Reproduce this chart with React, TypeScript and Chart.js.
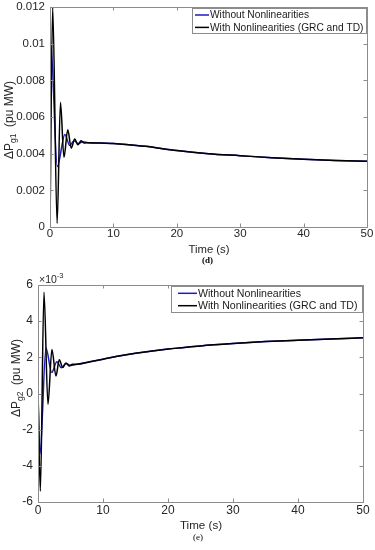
import React, { useEffect, useRef } from 'react';
import { Chart, registerables } from 'chart.js';

Chart.register(...registerables);

// ---------- data: panel (d) ΔPg1 ----------
const seriesNames = ['Without Nonlinearities', 'With Nonlinearities (GRC and TD)'];

const tD_without = [0, 0.12, 1.15, 2.35, 3.1, 3.8, 4.5, 5.2, 6, 8, 10, 12, 15, 20, 25, 30, 35, 40, 45, 50];
const pg1_without = [0, 0.0100, 0.0033, 0.00505, 0.00445, 0.0047, 0.00455, 0.00465, 0.0046, 0.00458, 0.00455, 0.0045, 0.0044, 0.00417, 0.0040, 0.00389, 0.00378, 0.0037, 0.00363, 0.00358];

const tD_with = [0, 0.42, 1.12, 1.65, 2.2, 2.8, 3.35, 3.9, 4.4, 4.9, 5.4, 6, 8, 10, 12, 15, 20, 25, 30, 35, 40, 45, 50];
const pg1_with = [0, 0.0120, 0.0002, 0.0068, 0.0038, 0.0053, 0.0043, 0.0048, 0.00448, 0.0047, 0.00458, 0.0046, 0.00458, 0.00455, 0.0045, 0.0044, 0.00417, 0.0040, 0.00389, 0.00378, 0.0037, 0.00363, 0.00358];

const yTicksD = [0, 0.002, 0.004, 0.006, 0.008, 0.01, 0.012];
const yLabelsD = ['0', '0.002', '0.004', '0.006', '0.008', '0.01', '0.012'];

// ---------- data: panel (e) ΔPg2 (×10^-3) ----------
const tE_without = [0, 0.3, 1.23, 2.1, 2.9, 3.6, 4.3, 5.0, 6, 8, 10, 12, 15, 20, 25, 30, 35, 40, 45, 50];
const pg2_without = [0, -3.36, 2.52, 1.16, 1.75, 1.42, 1.66, 1.55, 1.62, 1.76, 1.90, 2.04, 2.22, 2.46, 2.63, 2.76, 2.87, 2.95, 3.02, 3.08];

const tE_with = [0, 0.36, 0.92, 1.53, 2.14, 2.76, 3.27, 3.8, 4.3, 4.8, 5.3, 6, 8, 10, 12, 15, 20, 25, 30, 35, 40, 45, 50];
const pg2_with = [0, -5.4, 5.6, -0.6, 2.43, 0.97, 1.87, 1.44, 1.68, 1.52, 1.62, 1.62, 1.76, 1.90, 2.04, 2.22, 2.46, 2.63, 2.76, 2.87, 2.95, 3.02, 3.08];

const yTicksE = [-6, -4, -2, 0, 2, 4, 6];
const yLabelsE = ['-6', '-4', '-2', '0', '2', '4', '6'];

const xTicks = [0, 10, 20, 30, 40, 50];
const xLabels = ['0', '10', '20', '30', '40', '50'];

const BLUE = '#1c1cc4';
const BLACK = '#000000';
const FRAME = '#8c8c8c';
const TEXT = '#262626';
const SANS = '"Liberation Sans", Arial, sans-serif';

function pts(xs: number[], ys: number[]) {
  return xs.map((x, i) => ({ x, y: ys[i] }));
}

type PanelCfg = {
  height: number;
  padTop: number;
  padRight: number;
  yWidth: number;
  xHeight: number;
  yMin: number;
  yMax: number;
  yTicks: number[];
  yLabels: string[];
  tickFont: number;
  xTickPad: number;
  without: { x: number; y: number }[];
  withNL: { x: number; y: number }[];
  legend: { w: number; h: number; dy: number; rows: number[]; l0: number; l1: number; tx: number; font: number };
  yTitle: { x: number; y: number; sub: string };
  timeTitle: { x: number; y: number; size: number };
  tag: { text: string; x: number; y: number; bold: boolean };
  exponent?: { x: number; y: number };
};

function makePlugin(p: PanelCfg) {
  return {
    id: 'matlabFrame',
    afterDatasetsDraw(chart: any) {
      const { ctx, chartArea: a, scales } = chart;
      ctx.save();
      ctx.strokeStyle = FRAME;
      ctx.lineWidth = 1;
      ctx.strokeRect(Math.round(a.left) + 0.5, Math.round(a.top) + 0.5, Math.round(a.right - a.left), Math.round(a.bottom - a.top));
      const tl = 3.5;
      ctx.beginPath();
      scales.x.ticks.forEach((t: any) => {
        const px = Math.round(scales.x.getPixelForValue(t.value)) + 0.5;
        ctx.moveTo(px, a.bottom);
        ctx.lineTo(px, a.bottom - tl);
        ctx.moveTo(px, a.top);
        ctx.lineTo(px, a.top + tl);
      });
      scales.y.ticks.forEach((t: any) => {
        const py = Math.round(scales.y.getPixelForValue(t.value)) + 0.5;
        ctx.moveTo(a.left, py);
        ctx.lineTo(a.left + tl, py);
        ctx.moveTo(a.right, py);
        ctx.lineTo(a.right - tl, py);
      });
      ctx.stroke();
      ctx.restore();
    },
    afterDraw(chart: any) {
      const { ctx, chartArea: a } = chart;
      const L = p.legend;
      ctx.save();
      // legend
      const left = a.right - L.w;
      const top = a.top + L.dy;
      ctx.fillStyle = '#ffffff';
      ctx.fillRect(left, top, L.w, L.h);
      ctx.strokeStyle = FRAME;
      ctx.lineWidth = 1;
      ctx.strokeRect(Math.round(left) + 0.5, Math.round(top) + 0.5, Math.round(L.w) - 1, Math.round(L.h) - 1);
      const colors = [BLUE, BLACK];
      ctx.font = `${L.font}px ${SANS}`;
      ctx.textBaseline = 'middle';
      ctx.textAlign = 'left';
      seriesNames.forEach((name, i) => {
        const y = top + L.rows[i];
        ctx.strokeStyle = colors[i];
        ctx.lineWidth = 1.5;
        ctx.beginPath();
        ctx.moveTo(left + L.l0, y);
        ctx.lineTo(left + L.l1, y);
        ctx.stroke();
        ctx.fillStyle = '#1a1a1a';
        ctx.fillText(name, left + L.tx, y + 0.5);
      });

      // x title
      ctx.fillStyle = TEXT;
      ctx.font = `${p.timeTitle.size}px ${SANS}`;
      ctx.textAlign = 'center';
      ctx.textBaseline = 'middle';
      ctx.fillText('Time (s)', p.timeTitle.x, p.timeTitle.y);

      // panel tag
      ctx.fillStyle = '#000';
      ctx.font = `${p.tag.bold ? 'bold ' : ''}9px "Liberation Serif", "Times New Roman", serif`;
      ctx.fillText(p.tag.text, p.tag.x, p.tag.y);

      // y title with subscript
      ctx.save();
      ctx.translate(p.yTitle.x, p.yTitle.y);
      ctx.rotate(-Math.PI / 2);
      ctx.textAlign = 'left';
      ctx.textBaseline = 'alphabetic';
      ctx.fillStyle = TEXT;
      const mainF = `12px ${SANS}`;
      const subF = `8.5px ${SANS}`;
      ctx.font = mainF;
      const w1 = ctx.measureText('\u0394P').width;
      const w3 = ctx.measureText('  (pu MW)').width;
      ctx.font = subF;
      const w2 = ctx.measureText(p.yTitle.sub).width;
      let sx = -(w1 + w2 + w3) / 2;
      ctx.font = mainF;
      ctx.fillText('\u0394P', sx, 0);
      sx += w1;
      ctx.font = subF;
      ctx.fillText(p.yTitle.sub, sx, 3.5);
      sx += w2;
      ctx.font = mainF;
      ctx.fillText('  (pu MW)', sx, 0);
      ctx.restore();

      // exponent label
      if (p.exponent) {
        ctx.fillStyle = TEXT;
        ctx.textAlign = 'left';
        ctx.textBaseline = 'alphabetic';
        ctx.font = `10.5px ${SANS}`;
        ctx.fillText('\u00D710', p.exponent.x, p.exponent.y);
        const w = ctx.measureText('\u00D710').width;
        ctx.font = `7.5px ${SANS}`;
        ctx.fillText('-3', p.exponent.x + w, p.exponent.y - 5.5);
      }
      ctx.restore();
    },
  };
}

function makeConfig(p: PanelCfg): any {
  return {
    type: 'line',
    data: {
      datasets: [
        { label: seriesNames[0], data: p.without, order: 1, borderColor: BLUE, borderWidth: 1.5, pointRadius: 0, fill: false, cubicInterpolationMode: 'monotone' },
        { label: seriesNames[1], data: p.withNL, order: 0, borderColor: BLACK, borderWidth: 1.5, pointRadius: 0, fill: false, cubicInterpolationMode: 'monotone' },
      ],
    },
    options: {
      responsive: false,
      maintainAspectRatio: false,
      animation: false,
      events: [],
      layout: { padding: { left: 0, right: p.padRight, top: p.padTop, bottom: 0 } },
      plugins: { legend: { display: false }, tooltip: { enabled: false }, title: { display: false } },
      scales: {
        x: {
          type: 'linear',
          min: 0,
          max: 50,
          grid: { display: false, drawTicks: false },
          border: { display: false },
          afterBuildTicks: (s: any) => {
            s.ticks = xTicks.map((v) => ({ value: v }));
          },
          ticks: {
            padding: p.xTickPad,
            color: TEXT,
            font: { family: SANS, size: p.tickFont },
            maxRotation: 0,
            autoSkip: false,
            callback: (_v: any, i: number) => xLabels[i],
          },
          afterFit: (s: any) => {
            s.height = p.xHeight;
            s.paddingLeft = 0;
            s.paddingRight = 0;
          },
        },
        y: {
          type: 'linear',
          min: p.yMin,
          max: p.yMax,
          grid: { display: false, drawTicks: false },
          border: { display: false },
          afterBuildTicks: (s: any) => {
            s.ticks = p.yTicks.map((v) => ({ value: v }));
          },
          ticks: {
            padding: 5,
            color: TEXT,
            font: { family: SANS, size: p.tickFont },
            autoSkip: false,
            callback: (_v: any, i: number) => p.yLabels[i],
          },
          afterFit: (s: any) => {
            s.width = p.yWidth;
            s.paddingTop = 0;
            s.paddingBottom = 0;
          },
        },
      },
    },
    plugins: [makePlugin(p)],
  };
}

const panelD: PanelCfg = {
  height: 268,
  padTop: 7,
  padRight: 8,
  yWidth: 50,
  xHeight: 41,
  yMin: 0,
  yMax: 0.012,
  yTicks: yTicksD,
  yLabels: yLabelsD,
  tickFont: 11.5,
  xTickPad: 0,
  without: pts(tD_without, pg1_without),
  withNL: pts(tD_with, pg1_with),
  legend: { w: 175, h: 26, dy: 1, rows: [7, 19.4], l0: 3, l1: 17, tx: 18, font: 10.2 },
  yTitle: { x: 12.5, y: 120, sub: 'g1' },
  timeTitle: { x: 209, y: 250, size: 11.3 },
  tag: { text: '(d)', x: 207.5, y: 261, bold: true },
};

const panelE: PanelCfg = {
  height: 282,
  padTop: 17,
  padRight: 12,
  yWidth: 38,
  xHeight: 48,
  yMin: -6,
  yMax: 6,
  yTicks: yTicksE,
  yLabels: yLabelsE,
  tickFont: 12,
  xTickPad: 1.5,
  without: pts(tE_without, pg2_without),
  withNL: pts(tE_with, pg2_with),
  legend: { w: 192, h: 27, dy: 1, rows: [7.3, 19.7], l0: 7, l1: 26, tx: 27, font: 10.6 },
  yTitle: { x: 19.5, y: 110, sub: 'g2' },
  timeTitle: { x: 201, y: 258, size: 11.6 },
  tag: { text: '(e)', x: 198, y: 270, bold: false },
  exponent: { x: 39, y: 15.3 },
};

function Panel({ cfg, top }: { cfg: PanelCfg; top: number }) {
  const ref = useRef<HTMLCanvasElement | null>(null);
  useEffect(() => {
    if (!ref.current) return;
    const chart = new Chart(ref.current, makeConfig(cfg));
    return () => chart.destroy();
  }, [cfg]);
  return (
    <canvas
      ref={ref}
      width={375}
      height={cfg.height}
      style={{ position: 'absolute', left: 0, top, width: 375, height: cfg.height, display: 'block' }}
    />
  );
}

export default function App() {
  return (
    <div style={{ position: 'absolute', left: 0, top: 0, width: 375, height: 550, background: '#ffffff', overflow: 'hidden' }}>
      <Panel cfg={panelD} top={0} />
      <Panel cfg={panelE} top={268} />
    </div>
  );
}
